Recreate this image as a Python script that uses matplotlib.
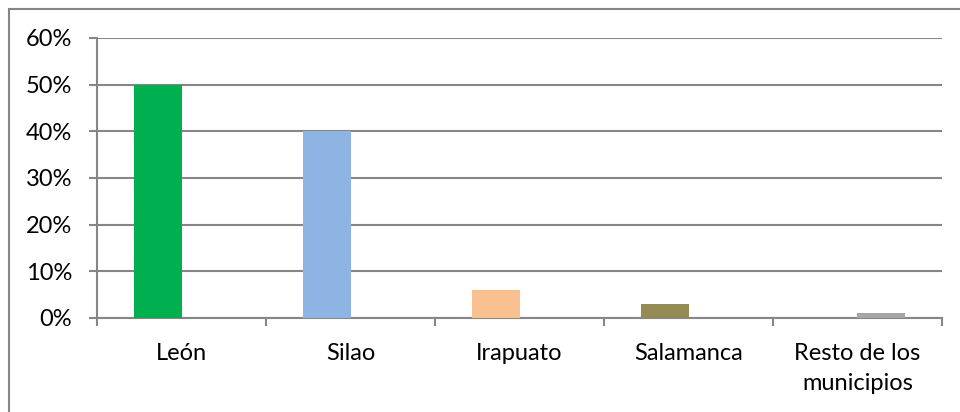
import matplotlib
matplotlib.use('Agg')
import matplotlib.pyplot as plt
from matplotlib.lines import Line2D
from matplotlib.ticker import FuncFormatter, FixedLocator, NullFormatter

# Data
categories = ['León', 'Silao', 'Irapuato', 'Salamanca', 'Resto de los\nmunicipios']
values = [0.50, 0.40, 0.06, 0.03, 0.01]
colors = ['#00B050', '#8DB4E2', '#FAC090', '#948A54', '#A6A6A6']
# the source used two series, so each bar sits left or right of its category centre
series_side = [-1, -1, -1, -1, 1]

plt.rcParams['font.family'] = ['Lato', 'DejaVu Sans']
grid_col = '#868686'

fig = plt.figure(figsize=(9.6, 4.12), dpi=100)
ax = fig.add_axes([97 / 960, 1 - 318 / 412, 845 / 960, 280 / 412])

bar_w = 0.284
xs = [i + s * 0.14 for i, s in enumerate(series_side)]
ax.bar(xs, values, width=bar_w, color=colors, zorder=3)

ax.set_xlim(-0.5, len(categories) - 0.5)
ax.set_ylim(0, 0.6)
ax.set_yticks([0, 0.1, 0.2, 0.3, 0.4, 0.5, 0.6])
ax.yaxis.set_major_formatter(FuncFormatter(lambda v, _: f'{v * 100:.0f}%'))
ax.grid(axis='y', color=grid_col, linewidth=1.5, zorder=0)

# category boundaries get the tick marks, labels sit in the middle
ax.xaxis.set_major_locator(FixedLocator([i - 0.5 for i in range(len(categories) + 1)]))
ax.xaxis.set_major_formatter(NullFormatter())
ax.set_xticks(range(len(categories)), minor=True)
ax.set_xticklabels(categories, minor=True, fontsize=17, color='#000000', linespacing=1.5)
ax.tick_params(axis='x', which='minor', length=0, pad=18)
ax.tick_params(axis='x', which='major', length=6, width=1.5, color=grid_col)
ax.tick_params(axis='y', length=6, width=1.5, color=grid_col, labelsize=17, pad=12)

for side in ['top', 'right']:
    ax.spines[side].set_visible(False)
for side in ['left', 'bottom']:
    ax.spines[side].set_color(grid_col)
    ax.spines[side].set_linewidth(1.5)

# chart frame (only top and left edges show in the crop)
fig.add_artist(Line2D([8.5 / 960, 1], [1 - 8.5 / 412, 1 - 8.5 / 412], color=grid_col, linewidth=1.5))
fig.add_artist(Line2D([8.5 / 960, 8.5 / 960], [0, 1 - 8.5 / 412], color=grid_col, linewidth=1.5))

fig.savefig('out.png', dpi=100)
